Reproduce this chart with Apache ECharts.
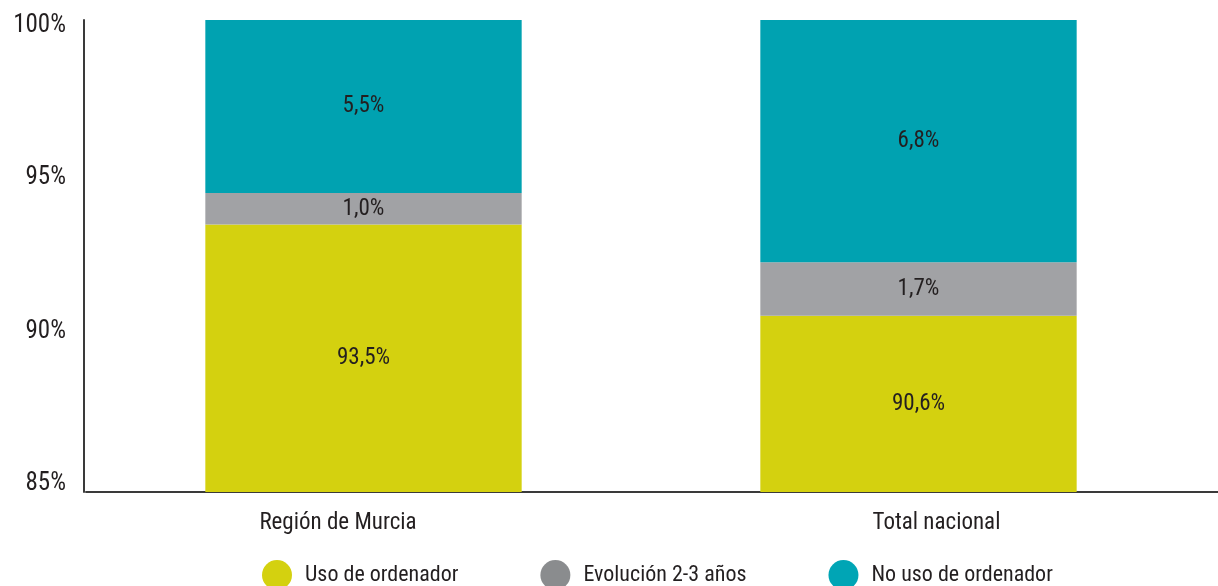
<!DOCTYPE html>
<html>
<head>
<meta charset="utf-8">
<script src="https://cdn.jsdelivr.net/npm/echarts@6/dist/echarts.min.js"></script>
<style>
  html, body { margin: 0; padding: 0; background: #ffffff; }
  #chart { width: 1218px; height: 586px; }
</style>
</head>
<body>
<div id="chart"></div>
<script>
// ---- data ----
const categories = ['Región de Murcia', 'Total nacional'];
const usoValues = [93.5, 90.6];          // Uso de ordenador
const evolucionValues = [1.0, 1.7];      // Evolución 2-3 años
const noUsoBarValues = [5.5, 7.7];       // No uso de ordenador (drawn extent, segment reaches 100%)
const noUsoPrinted = [5.5, 6.8];         // No uso de ordenador (printed label values)
const yTicks = [85, 90, 95, 100];
const seriesNames = ['Uso de ordenador', 'Evolución 2-3 años', 'No uso de ordenador'];

const FONT = '"Roboto Condensed", "Open Sans Condensed", "DejaVu Sans Condensed", sans-serif';
const TXT = '#231f20';
const fmt = v => v.toFixed(1).replace('.', ',') + '%';

const chart = echarts.init(document.getElementById('chart'), null, { renderer: 'canvas' });

const labelBase = {
  show: true,
  position: 'inside',
  color: TXT,
  fontFamily: FONT,
  fontSize: 23
};

chart.setOption({
  animation: false,
  backgroundColor: '#ffffff',
  grid: { left: 86, right: 22, top: 20, bottom: 94, containLabel: false },
  legend: {
    data: [
      { name: seriesNames[0], itemStyle: { color: '#d4d10f' } },
      { name: seriesNames[1], itemStyle: { color: '#8a8c8e' } },
      { name: seriesNames[2], itemStyle: { color: '#00a5b5' } }
    ],
    left: 262,
    top: 560,
    padding: 0,
    icon: 'circle',
    itemWidth: 30,
    itemHeight: 30,
    itemGap: 82,
    textStyle: { color: TXT, fontFamily: FONT, fontSize: 22, padding: [0, 0, 0, 8] }
  },
  xAxis: {
    type: 'category',
    data: categories,
    axisLine: {
      show: true,
      lineStyle: { color: '#3a3a3a', width: 2 },
      symbol: ['none', 'rect'],
      symbolSize: [2, 48]
    },
    axisTick: { show: false },
    axisLabel: {
      color: TXT,
      fontFamily: FONT,
      fontSize: 23,
      margin: 20,
      formatter: (v, i) => (i === 0 ? '{l|' + v + '}' : '{r|' + v + '}'),
      rich: {
        l: { color: TXT, fontFamily: FONT, fontSize: 23, padding: [0, 51, 0, 0] },
        r: { color: TXT, fontFamily: FONT, fontSize: 23, padding: [0, 0, 0, 36] }
      }
    }
  },
  yAxis: {
    type: 'value',
    min: yTicks[0],
    max: yTicks[yTicks.length - 1],
    interval: 5,
    offset: 2,
    splitLine: { show: false },
    axisTick: { show: false },
    axisLine: { show: true, lineStyle: { color: '#3a3a3a', width: 2 } },
    axisLabel: {
      color: TXT,
      fontFamily: FONT,
      fontSize: 25,
      margin: 18,
      formatter: v => '{t' + v + '|' + v + '%}',
      rich: {
        t85: { color: TXT, fontFamily: FONT, fontSize: 25, padding: [0, 0, 16, 0] },
        t90: { color: TXT, fontFamily: FONT, fontSize: 25, padding: [0, 0, 6, 0] },
        t95: { color: TXT, fontFamily: FONT, fontSize: 25 },
        t100: { color: TXT, fontFamily: FONT, fontSize: 25, padding: [12, 0, 0, 0] }
      }
    }
  },
  series: [
    {
      name: seriesNames[0],
      type: 'bar',
      stack: 'total',
      barWidth: '57%',
      data: usoValues,
      itemStyle: { color: '#d4d10f' },
      label: Object.assign({}, labelBase, { formatter: p => fmt(p.value) })
    },
    {
      name: seriesNames[1],
      type: 'bar',
      stack: 'total',
      data: evolucionValues,
      itemStyle: { color: '#a1a2a5' },
      label: Object.assign({}, labelBase, { formatter: p => fmt(p.value) })
    },
    {
      name: seriesNames[2],
      type: 'bar',
      stack: 'total',
      data: noUsoBarValues,
      itemStyle: { color: '#00a2b1' },
      label: Object.assign({}, labelBase, { formatter: p => fmt(noUsoPrinted[p.dataIndex]) })
    }
  ]
});
</script>
</body>
</html>
